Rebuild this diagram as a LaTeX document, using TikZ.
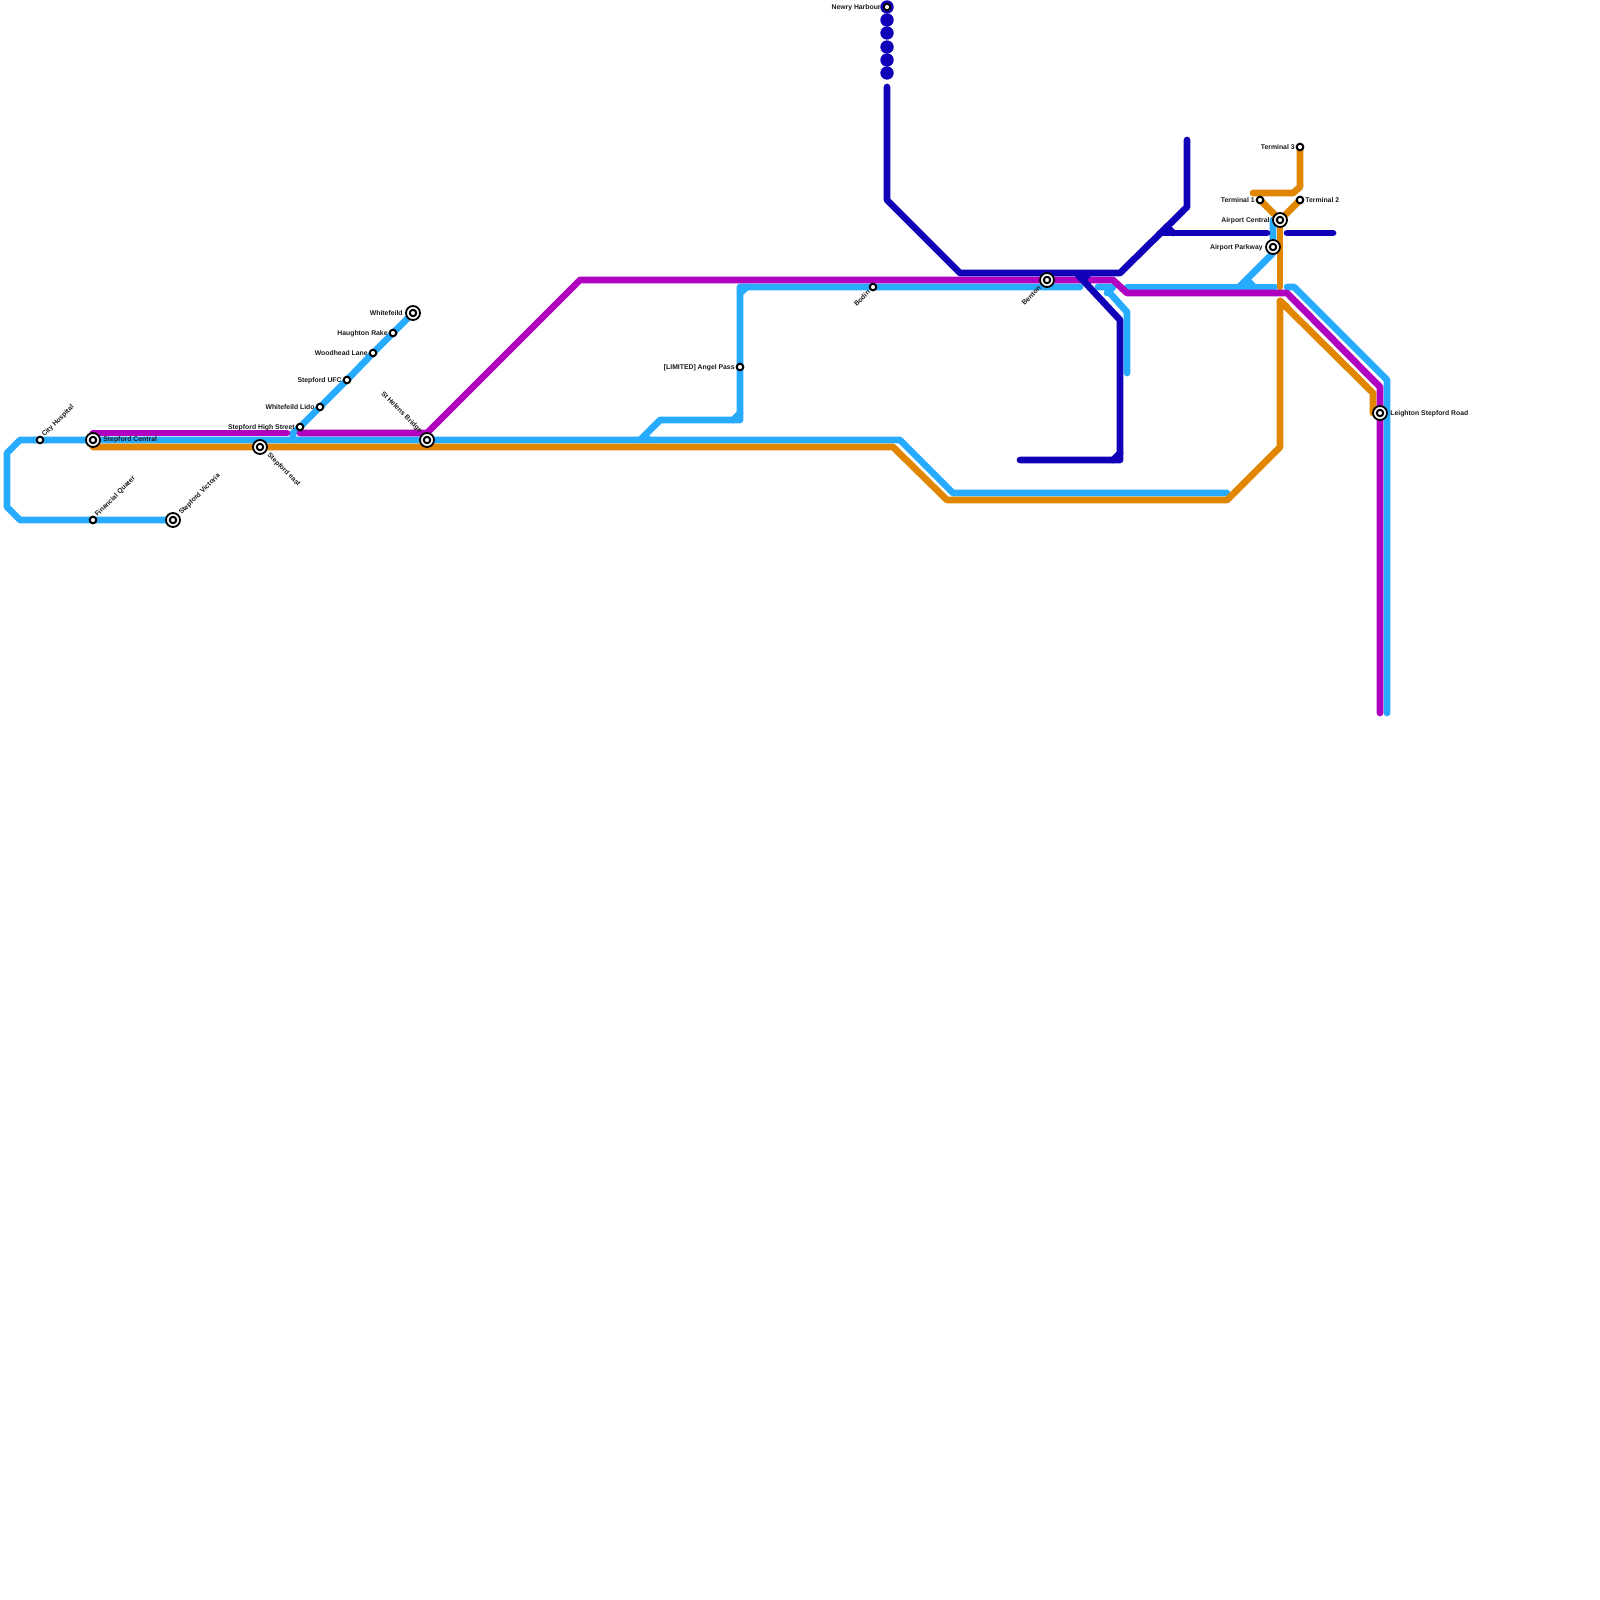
\documentclass[tikz,border=0pt]{standalone}
\usepackage{fontspec}
\setmainfont{Liberation Sans}
\definecolor{lblue}{RGB}{38,171,255}
\definecolor{lmag}{RGB}{176,0,192}
\definecolor{lora}{RGB}{224,134,0}
\definecolor{ldark}{RGB}{16,0,184}
\tikzset{
  rail/.style={line width=3.35pt,line join=round,line cap=round},
  blueline/.style={rail,draw=lblue},
  magline/.style={rail,draw=lmag},
  oraline/.style={rail,draw=lora},
  darkline/.style={rail,draw=ldark},
  smallst/.style={circle,draw=black,fill=white,line width=1pt,minimum size=3.3pt,inner sep=0pt},
  bigst/.style={circle,draw=black,fill=white,line width=0.9pt,minimum size=7pt,inner sep=0pt},
  bigin/.style={circle,draw=black,fill=white,line width=1pt,minimum size=3.2pt,inner sep=0pt},
  dot/.style={circle,fill=ldark,minimum size=6.7pt,inner sep=0pt},
  lab/.style={font=\fontsize{3.42}{4}\selectfont\bfseries,text=black!90,inner sep=0pt},
}
\newcommand{\bigstation}[2]{\node[bigst] (#1) at (#2) {};\node[bigin] (#1-in) at (#2) {};}
\begin{document}
\begin{tikzpicture}[x=0.5pt,y=-0.5pt]
\useasboundingbox (0,0) rectangle (1600,1600);
% stations
\coordinate (cityh) at (40,440);
\coordinate (central) at (93,440);
\coordinate (east) at (260,447);
\coordinate (fin) at (93,520);
\coordinate (vic) at (173,520);
\coordinate (high) at (300,427);
\coordinate (lido) at (320,407);
\coordinate (ufc) at (347,380);
\coordinate (wood) at (373,353);
\coordinate (haugh) at (393,333);
\coordinate (whitef) at (413,313);
\coordinate (helens) at (427,440);
\coordinate (angel) at (740,367);
\coordinate (bodin) at (873,287);
\coordinate (benton) at (1047,280);
\coordinate (newry) at (887,7);
\coordinate (t1) at (1260,200);
\coordinate (t2) at (1300,200);
\coordinate (t3) at (1300,147);
\coordinate (apc) at (1280,220);
\coordinate (app) at (1273,247);
\coordinate (leigh) at (1380,413);
% bends: light blue
\coordinate (b1) at (20,440);\coordinate (b2) at (7,453);\coordinate (b3) at (7,507);\coordinate (b4) at (20,520);
\coordinate (b5) at (900,440);\coordinate (b6) at (953,493);\coordinate (b7) at (1227,493);
\coordinate (b8) at (293,433);\coordinate (b9) at (293,440);
\coordinate (b10) at (640,440);\coordinate (b11) at (660,420);\coordinate (b12) at (740,420);\coordinate (b13) at (740,287);
\coordinate (b14) at (1080,287);
\coordinate (b15) at (1098,287);\coordinate (b16) at (1113,287);\coordinate (b17) at (1107,293);
\coordinate (b18) at (1108,291);\coordinate (b19) at (1127,312);\coordinate (b20) at (1127,373);
\coordinate (b21) at (1127,287);\coordinate (b22) at (1275,287);
\coordinate (b23) at (1287,287);\coordinate (b24) at (1294,287);\coordinate (b25) at (1387,380);\coordinate (b26) at (1387,713);
\coordinate (b27) at (1273,220);\coordinate (b27b) at (1273,253);\coordinate (b28) at (1240,286);\coordinate (b29) at (1253,286);
\coordinate (b30) at (1248,281);
\coordinate (b31) at (733,420);\coordinate (b32) at (740,413);
\coordinate (b33) at (740,293);\coordinate (b34) at (747,287);
\coordinate (b35) at (649,440);\coordinate (b36) at (645,436);
% bends: orange
\coordinate (o1) at (93,447);\coordinate (o2) at (893,447);\coordinate (o3) at (947,500);\coordinate (o4) at (1227,500);
\coordinate (o5) at (1280,447);\coordinate (o6) at (1280,301);\coordinate (o7) at (1373,393);\coordinate (o8) at (1373,413);
\coordinate (o9) at (1280,287);\coordinate (o10) at (1300,187);\coordinate (o11) at (1293,193);\coordinate (o12) at (1253,193);
\coordinate (o13) at (1287,307);
% bends: magenta
\coordinate (m1) at (93,433);\coordinate (m2) at (287,433);\coordinate (m3) at (300,433);\coordinate (m4) at (427,433);
\coordinate (m5) at (580,280);\coordinate (m6) at (1113,280);\coordinate (m7) at (1127,293);\coordinate (m8) at (1287,293);
\coordinate (m9) at (1380,387);\coordinate (m10) at (1380,713);
% bends: dark blue
\coordinate (d1) at (887,87);\coordinate (d2) at (887,200);\coordinate (d3) at (960,273);\coordinate (d4) at (1120,273);
\coordinate (d5) at (1187,207);\coordinate (d6) at (1187,140);
\coordinate (d7) at (1078,275);\coordinate (d8) at (1120,320);\coordinate (d9) at (1120,460);\coordinate (d10) at (1020,460);
\coordinate (d11) at (1113,460);\coordinate (d12) at (1120,453);
\coordinate (d13) at (1160,233);\coordinate (d14) at (1267,233);\coordinate (d15) at (1287,233);\coordinate (d16) at (1333,233);
\coordinate (d17) at (1167,227);\coordinate (d18) at (1173,233);
\coordinate (d19) at (1088,274);\coordinate (d20) at (1084,279);
% light blue lines
\draw[blueline] (central) -- (cityh) -- (b1) -- (b2) -- (b3) -- (b4) -- (fin) -- (vic);
\draw[blueline] (central) -- (b9) -- (helens) -- (b5) -- (b6) -- (b7);
\draw[blueline] (whitef) -- (haugh) -- (wood) -- (ufc) -- (lido) -- (high) -- (b8) -- (b9);
\draw[blueline] (b10) -- (b11) -- (b12) -- (angel) -- (b13) -- (bodin) -- (benton |- b14) -- (b14);
\draw[blueline] (b31) -- (b32);
\draw[blueline] (b33) -- (b34);
\draw[blueline] (b35) -- (b36);
\draw[blueline] (b15) -- (b16) -- (b17);
\draw[blueline] (b18) -- (b19) -- (b20);
\draw[blueline] (b21) -- (b22);
\draw[blueline] (b23) -- (b24) -- (b25) -- (b26);
\draw[blueline] (b27) -- (b27b) -- (b28);
\draw[blueline] (b29) -- (b30);
% orange lines
\draw[oraline] (o1) -- (east) -- (o2) -- (o3) -- (o4) -- (o5) -- (o6) -- (o7) -- (o8);
\draw[oraline] (o6) -- (o13);
\draw[oraline] (apc) -- (o9);
\draw[oraline] (t3) -- (o10) -- (o11) -- (o12);
\draw[oraline] (t1) -- (apc) -- (t2);
% magenta lines
\draw[magline] (m1) -- (m2);
\draw[magline] (m3) -- (m4) -- (m5) -- (m6) -- (m7) -- (m8) -- (m9) -- (m10);
% dark blue lines
\draw[darkline] (d1) -- (d2) -- (d3) -- (d4) -- (d5) -- (d6);
\draw[darkline] (d7) -- (d8) -- (d9) -- (d10);
\draw[darkline] (d11) -- (d12);
\draw[darkline] (d19) -- (d20);
\draw[darkline] (d13) -- (d14);
\draw[darkline] (d17) -- (d18);
\draw[darkline] (d15) -- (d16);
% dots
\node[dot] (n0) at (newry) {};
\node[dot] (n1) at (887,20) {};
\node[dot] (n2) at (887,33) {};
\node[dot] (n3) at (887,47) {};
\node[dot] (n4) at (887,60) {};
\node[dot] (n5) at (887,73) {};
% stations
\node[smallst] (sCity) at (cityh) {};
\bigstation{sCentral}{central}
\bigstation{sEast}{east}
\node[smallst] (sFin) at (fin) {};
\bigstation{sVic}{vic}
\node[smallst] (sHigh) at (high) {};
\node[smallst] (sLido) at (lido) {};
\node[smallst] (sUfc) at (ufc) {};
\node[smallst] (sWood) at (wood) {};
\node[smallst] (sHaugh) at (haugh) {};
\bigstation{sWhite}{whitef}
\bigstation{sHelens}{helens}
\node[smallst] (sAngel) at (angel) {};
\node[smallst] (sBodin) at (bodin) {};
\bigstation{sBenton}{benton}
\node[smallst] (sNewry) at (newry) {};
\node[smallst] (sT1) at (t1) {};
\node[smallst] (sT2) at (t2) {};
\node[smallst] (sT3) at (t3) {};
\bigstation{sApc}{apc}
\bigstation{sApp}{app}
\bigstation{sLeigh}{leigh}
% labels
\node[lab,anchor=west,rotate=45] (lCity) at (43,436) {City Hospital};
\node[lab,anchor=west] (lCentral) at (103,440) {Stepford Central};
\node[lab,anchor=west,rotate=-45] (lEast) at (268,454) {Stepford east};
\node[lab,anchor=west,rotate=45] (lFin) at (96,516) {Financial Quater};
\node[lab,anchor=west,rotate=45] (lVic) at (180,514) {Stepford Victoria};
\node[lab,anchor=east] (lHigh) at (295,427.5) {Stepford High Street};
\node[lab,anchor=east] (lLido) at (315,407.5) {Whitefeild Lido};
\node[lab,anchor=east] (lUfc) at (342,380.5) {Stepford UFC};
\node[lab,anchor=east] (lWood) at (368,353.5) {Woodhead Lane};
\node[lab,anchor=east] (lHaugh) at (388,333.5) {Haughton Rake};
\node[lab,anchor=east] (lWhite) at (403,313.5) {Whitefeild};
\node[lab,anchor=east,rotate=-45] (lHelens) at (421,432) {St Helens Bridge};
\node[lab,anchor=east] (lAngel) at (735,367.5) {[LIMITED] Angel Pass};
\node[lab,anchor=east,rotate=45] (lBodin) at (869,291) {Bodin};
\node[lab,anchor=east,rotate=45] (lBenton) at (1040,287) {Benton};
\node[lab,anchor=east] (lNewry) at (881,7.5) {Newry Harbour};
\node[lab,anchor=east] (lT3) at (1295,147.5) {Terminal 3};
\node[lab,anchor=east] (lT1) at (1255,200.5) {Terminal 1};
\node[lab,anchor=west] (lT2) at (1305,200.5) {Terminal 2};
\node[lab,anchor=east] (lApc) at (1270,220.5) {Airport Central};
\node[lab,anchor=east] (lApp) at (1263,247.5) {Airport Parkway};
\node[lab,anchor=west] (lLeigh) at (1390,413.5) {Leighton Stepford Road};
\end{tikzpicture}
\end{document}
